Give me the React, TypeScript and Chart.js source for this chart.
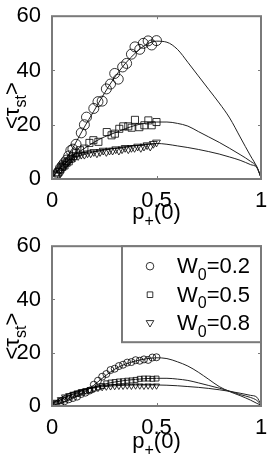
import React, { useEffect, useRef } from 'react';
import { Chart, registerables } from 'chart.js';
Chart.register(...registerables);

// ---------- data ----------
const curveX = [0, 0.05, 0.1, 0.15, 0.2, 0.25, 0.3, 0.35, 0.4, 0.45, 0.5, 0.55, 0.6, 0.65, 0.7, 0.75, 0.8, 0.85, 0.9, 0.95, 0.98, 1];

// top panel fitted curves
const topCurve02 = [0.5, 5.5, 11.5, 18.5, 25, 31.5, 37.5, 42.5, 46.5, 49.5, 50.8, 50.4, 47.8, 43, 38, 33, 28, 22.5, 15.5, 8.5, 4.5, 0.5];
const topCurve05 = [0.5, 4.5, 8.5, 11, 13.5, 15.5, 17, 18.5, 19.8, 20.6, 21, 21, 20.5, 19.5, 17.5, 15.5, 13.5, 11.3, 9, 6.5, 4.5, 0.5];
const topCurve08 = [0.5, 5, 7.8, 9, 10, 10.7, 11.3, 11.8, 12.3, 12.8, 13.1, 12.8, 12.2, 11.6, 10.9, 10.1, 9.2, 8.1, 6.9, 5.3, 4.2, 0.5];

// top panel simulation markers
const topCircleX = [0.02, 0.03, 0.04, 0.05, 0.06, 0.07, 0.08, 0.09, 0.10, 0.115, 0.14, 0.155, 0.165, 0.20, 0.22, 0.24, 0.26, 0.28, 0.30, 0.317, 0.338, 0.357, 0.38, 0.397, 0.42, 0.437, 0.46, 0.477, 0.50];
const topCircleY = [1.5, 2.5, 4, 5, 6, 7, 8.5, 10.5, 11, 12.8, 17, 20, 22.8, 26, 28.5, 28.7, 33.2, 35, 38.9, 36.8, 41.3, 42.6, 46, 48.7, 47.8, 50, 50.9, 49.4, 51];
const topSquareX = [0.02, 0.03, 0.04, 0.05, 0.06, 0.07, 0.08, 0.09, 0.10, 0.115, 0.134, 0.155, 0.179, 0.198, 0.222, 0.262, 0.285, 0.301, 0.322, 0.341, 0.365, 0.381, 0.397, 0.418, 0.442, 0.461, 0.477, 0.50];
const topSquareY = [1.5, 2.5, 3.5, 4.5, 5, 6, 6.5, 7.5, 8.5, 9.5, 10.6, 11.2, 13.3, 14.3, 13.7, 17.3, 16.1, 16.7, 18.5, 19.4, 19.4, 18.9, 21.8, 19.1, 19.8, 21.6, 19.8, 21];
const topTriX = [0.02, 0.035, 0.05, 0.065, 0.08, 0.095, 0.11, 0.125, 0.14, 0.155, 0.17, 0.185, 0.2, 0.215, 0.23, 0.245, 0.26, 0.275, 0.29, 0.305, 0.32, 0.335, 0.35, 0.365, 0.38, 0.395, 0.41, 0.425, 0.44, 0.455, 0.47, 0.485, 0.5];
const topTriY = [1.5, 3, 4.5, 5.5, 6.5, 7.5, 8, 8.5, 9, 9, 9.5, 9.5, 10, 9.5, 10, 10.5, 10, 10.5, 10.5, 11, 10.5, 11, 11.5, 11, 11.5, 11.5, 12, 11.5, 12, 12.5, 12, 13, 13.5];

// bottom panel fitted curves
const botCurve02 = [0.3, 1.3, 3, 5, 7.8, 11, 13.8, 15.7, 16.9, 17.7, 18.1, 17.8, 16.6, 15, 12.7, 10, 7.3, 5.4, 3.9, 2.2, 1.0, 0.3];
const botCurve05 = [0.5, 2.7, 4.5, 5.8, 7, 8.2, 9, 9.6, 10, 10.3, 10.4, 10.4, 10.1, 9.6, 8.7, 7.7, 6.7, 5.6, 4.3, 3.2, 2.1, 0.5];
const botCurve08 = [0.8, 3.5, 5.2, 6.2, 6.9, 7.3, 7.6, 7.8, 7.9, 7.9, 7.9, 7.8, 7.6, 7.3, 7.0, 6.6, 6.1, 5.5, 4.8, 4.0, 3.3, 0.5];

// bottom panel simulation markers
const botX = [0.02, 0.04, 0.06, 0.08, 0.10, 0.12, 0.14, 0.16, 0.18, 0.20, 0.22, 0.24, 0.26, 0.28, 0.30, 0.32, 0.34, 0.36, 0.38, 0.40, 0.42, 0.44, 0.46, 0.48, 0.50];
const botCircleY = [0.5, 1, 1.8, 2.5, 3, 3.5, 4.5, 5, 5.8, 8, 9.5, 11, 12, 13.5, 14, 15, 15.5, 16.3, 16.5, 17.2, 17, 17.5, 17.3, 18.2, 18.3];
const botSquareY = [1, 1.8, 2.5, 3.2, 4, 4.5, 5, 5.5, 6, 6.5, 7, 7.5, 8.5, 8.8, 9, 9.2, 9.3, 9.5, 9.6, 9.8, 10.2, 10.3, 10.3, 10.2, 10.3];
const botTriY = [1.5, 2.5, 3.5, 4, 4.5, 5, 5.5, 5.8, 6, 6.3, 6.7, 7, 7.2, 7.3, 7.4, 7.5, 7.5, 7.6, 7.5, 7.6, 7.6, 7.5, 7.6, 7.5, 7.6];

const xTicks = [0, 0.5, 1];
const yTicks = [0, 20, 40, 60];
const legendLabels = ['0.2', '0.5', '0.8'];

// ---------- styling ----------
const FONT = '"Liberation Sans", Arial, Helvetica, sans-serif';
const FONT_SIZE = 22;
const AXIS_GRAY = '#7a7a7a';

type Part = { t: string; sub?: boolean };

function drawRich(ctx: CanvasRenderingContext2D, parts: Part[], x: number, y: number, size: number, align: 'left' | 'center') {
  const subSize = Math.round(size * 0.72);
  const widths = parts.map((p) => {
    ctx.font = `${p.sub ? subSize : size}px ${FONT}`;
    return ctx.measureText(p.t).width;
  });
  const total = widths.reduce((a, b) => a + b, 0);
  let cx = align === 'center' ? x - total / 2 : x;
  ctx.textAlign = 'left';
  ctx.textBaseline = 'alphabetic';
  parts.forEach((p, i) => {
    ctx.font = `${p.sub ? subSize : size}px ${FONT}`;
    ctx.fillText(p.t, cx, p.sub ? y + size * 0.3 : y);
    cx += widths[i];
  });
}

function pts(xs: number[], ys: number[]) {
  return xs.map((x, i) => ({ x, y: ys[i] }));
}

function makePlugin(showLegend: boolean, xTitleY: number, yTitleX: number, yTitleShift: number) {
  return {
    id: 'matlabFrame',
    afterDraw(chart: any) {
      const { ctx, chartArea: a, scales } = chart;
      const xs = scales.x;
      const ys = scales.y;
      ctx.save();
      // inward ticks
      ctx.strokeStyle = AXIS_GRAY;
      ctx.lineWidth = 1;
      ctx.beginPath();
      xTicks.slice(1, -1).forEach((v) => {
        const px = Math.round(xs.getPixelForValue(v)) + 0.5;
        ctx.moveTo(px, a.bottom);
        ctx.lineTo(px, a.bottom - 3);
        ctx.moveTo(px, a.top);
        ctx.lineTo(px, a.top + 3);
      });
      yTicks.slice(1, -1).forEach((v) => {
        const py = Math.round(ys.getPixelForValue(v)) + 0.5;
        ctx.moveTo(a.left, py);
        ctx.lineTo(a.left + 3, py);
        ctx.moveTo(a.right, py);
        ctx.lineTo(a.right - 3, py);
      });
      ctx.stroke();
      // box
      ctx.lineWidth = 2;
      ctx.strokeRect(a.left, a.top, a.right - a.left, a.bottom - a.top);

      // legend
      if (showLegend) {
        const lx = a.left + 70;
        const ly = a.top;
        const lw = a.right - lx;
        const lh = 96;
        ctx.fillStyle = '#fff';
        ctx.fillRect(lx, ly, lw, lh);
        ctx.strokeStyle = AXIS_GRAY;
        ctx.lineWidth = 2;
        ctx.strokeRect(lx, ly, lw, lh);
        const styles = ['circle', 'rect', 'triangle'];
        legendLabels.forEach((lab, i) => {
          const cy = ly + 20 + i * 28.5;
          const mx = lx + 28;
          ctx.strokeStyle = '#000';
          ctx.lineWidth = 0.8;
          ctx.beginPath();
          if (styles[i] === 'circle') {
            ctx.arc(mx, cy, 3.8, 0, Math.PI * 2);
          } else if (styles[i] === 'rect') {
            ctx.rect(mx - 2.8, cy - 2.8, 5.6, 5.6);
          } else {
            ctx.moveTo(mx - 3.8, cy - 2.6);
            ctx.lineTo(mx + 3.8, cy - 2.6);
            ctx.lineTo(mx, cy + 3.8);
            ctx.closePath();
          }
          ctx.stroke();
          ctx.fillStyle = '#000';
          drawRich(ctx, [{ t: 'W' }, { t: '0', sub: true }, { t: '=' + lab }], lx + 55, cy + 7, FONT_SIZE, 'left');
        });
      }

      // axis titles
      ctx.fillStyle = '#000';
      const cxMid = (a.left + a.right) / 2;
      drawRich(ctx, [{ t: 'p' }, { t: '+', sub: true }, { t: '(0)' }], cxMid, xTitleY, FONT_SIZE, 'center');
      ctx.translate(yTitleX, (a.top + a.bottom) / 2 + yTitleShift);
      ctx.rotate(-Math.PI / 2);
      drawRich(ctx, [{ t: '<τ' }, { t: 'st', sub: true }, { t: '>' }], 0, 0, FONT_SIZE, 'center');
      ctx.restore();
    },
  };
}

function markerDs(data: any[], style: string, r: number) {
  return {
    data,
    showLine: false,
    pointStyle: style,
    rotation: style === 'triangle' ? 180 : 0,
    pointRadius: r,
    pointBorderColor: '#000',
    pointBackgroundColor: 'rgba(0,0,0,0)',
    pointBorderWidth: 0.8,
    borderColor: '#000',
  };
}

function lineDs(data: any[]) {
  return {
    data,
    showLine: true,
    borderColor: '#222',
    borderWidth: 1,
    pointRadius: 0,
    cubicInterpolationMode: 'monotone',
    fill: false,
  };
}

function Panel(props: { datasets: any[]; padTop: number; xAxisH: number; legend: boolean; xTitleY: number; yTitleX: number; yTitleShift: number }) {
  const ref = useRef<HTMLCanvasElement | null>(null);
  useEffect(() => {
    if (!ref.current) return;
    const chart = new Chart(ref.current, {
      type: 'scatter',
      data: { datasets: props.datasets },
      options: {
        animation: false,
        responsive: false,
        devicePixelRatio: 1,
        layout: { padding: { top: props.padTop, right: 10, left: 0, bottom: 0 } },
        plugins: { legend: { display: false }, tooltip: { enabled: false }, title: { display: false } },
        scales: {
          x: {
            type: 'linear',
            min: 0,
            max: 1,
            afterFit: (s: any) => { s.height = props.xAxisH; },
            afterBuildTicks: (s: any) => { s.ticks = xTicks.map((v) => ({ value: v })); },
            ticks: { color: '#000', font: { family: FONT, size: FONT_SIZE }, padding: 1, maxRotation: 0, callback: (v: any) => String(v) },
            grid: { display: false },
            border: { display: false },
          },
          y: {
            type: 'linear',
            min: 0,
            max: 60,
            afterFit: (s: any) => { s.width = 52; },
            afterBuildTicks: (s: any) => { s.ticks = yTicks.map((v) => ({ value: v })); },
            ticks: { color: '#000', font: { family: FONT, size: FONT_SIZE }, padding: 3, callback: (v: any) => String(v) },
            grid: { display: false },
            border: { display: false },
          },
        },
      } as any,
      plugins: [makePlugin(props.legend, props.xTitleY, props.yTitleX, props.yTitleShift) as any],
    });
    return () => chart.destroy();
  }, []);
  return <canvas ref={ref} width={271} height={230} style={{ display: 'block', width: 271, height: 230 }} />;
}

export default function App() {
  const topSets = [
    markerDs(pts(topCircleX, topCircleY), 'circle', 5),
    markerDs(pts(topSquareX, topSquareY), 'rect', 5),
    markerDs(pts(topTriX, topTriY), 'triangle', 4.5),
    lineDs(pts(curveX, topCurve02)),
    lineDs(pts(curveX, topCurve05)),
    lineDs(pts(curveX, topCurve08)),
  ];
  const botSets = [
    markerDs(pts(botX, botCircleY), 'circle', 3.5),
    markerDs(pts(botX, botSquareY), 'rect', 3.5),
    markerDs(pts(botX, botTriY), 'triangle', 3.5),
    lineDs(pts(curveX, botCurve02)),
    lineDs(pts(curveX, botCurve05)),
    lineDs(pts(curveX, botCurve08)),
  ];
  return (
    <div style={{ position: 'absolute', left: 0, top: 0, width: 271, height: 460, background: '#fff' }}>
      <Panel datasets={topSets} padTop={15} xAxisH={51} legend={false} xTitleY={219} yTitleX={19} yTitleShift={8} />
      <Panel datasets={botSets} padTop={13} xAxisH={54} legend={true} xTitleY={218} yTitleX={19} yTitleShift={10} />
    </div>
  );
}
